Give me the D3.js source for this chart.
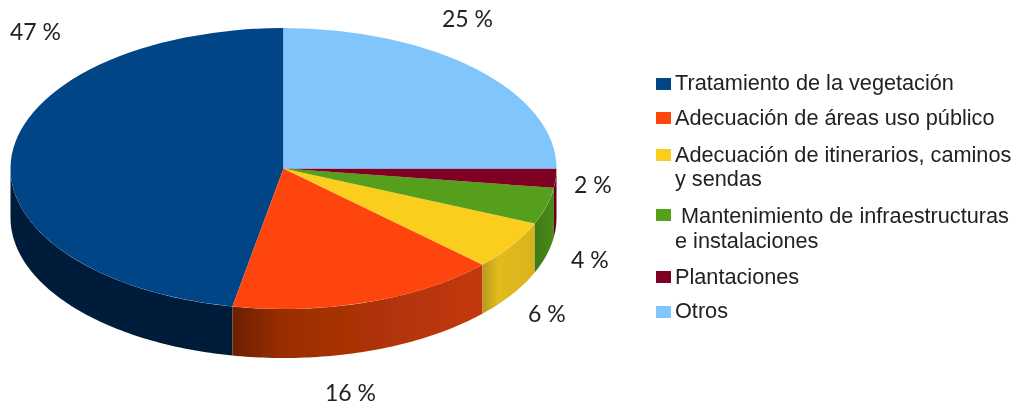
<!DOCTYPE html>
<html><head><meta charset="utf-8">
<script src="https://cdn.jsdelivr.net/npm/d3@7/dist/d3.min.js"></script>
<style>html,body{margin:0;padding:0;background:#fff}svg{display:block}</style>
</head><body><div id="c"></div>
<script>
const categories = ["Tratamiento de la vegetación","Adecuación de áreas uso público","Adecuación de itinerarios, caminos y sendas","Mantenimiento de infraestructuras e instalaciones","Plantaciones","Otros"];
const values = [47,16,5.6,4.2,2.2,25];
const valueLabels = ["47 %","16 %","6 %","4 %","2 %","25 %"];
const legendLines = [["Tratamiento de la vegetación"],["Adecuación de áreas uso público"],["Adecuación de itinerarios, caminos","y sendas"],["\u00A0Mantenimiento de infraestructuras","e instalaciones"],["Plantaciones"],["Otros"]];
const colors = ["#004586","#fd450d","#fbcd1e","#569f1a","#7e0021","#80c6fd"];

const W=1016,H=405,cx=283.5,cy=168.5,rx=273,ry=140.5,depth=49;
const labelPos=[[10,40],[325,401],[528,322],[571,268],[574,193],[442,27]];
const wallStops=[
 [["0","#001d3a"],["1","#001d3a"]],
 [["0","#6b2000"],["0.2","#9a2e04"],["1","#c5380a"]],
 [["0","#b89a1c"],["0.3","#e2bc20"],["1","#d8b21c"]],
 [["0","#3f7a12"],["1","#4a8a16"]],
 [["0","#5e0018"],["1","#6a001c"]],
 [["0","#6aa5d0"],["1","#6aa5d0"]]];
const legendBaselines=[[90],[125],[162,186],[223,248],[284],[318]];
const swatchY=[78,112,149,209,271,306];

const svg=d3.select("#c").append("svg").attr("width",W).attr("height",H).attr("viewBox",[0,0,W,H]);
const defs=svg.append("defs");
defs.append("filter").attr("id","soft").append("feGaussianBlur").attr("stdDeviation",0.6);

// Clockwise angle from 12 o'clock; first slice runs anticlockwise from the top
const pie=d3.pie().sort(null).startAngle(0).endAngle(-2*Math.PI);
const arcs=pie(values);
const px=a=>cx+rx*Math.sin(a), py=a=>cy-ry*Math.cos(a);
const ringLine=d3.line();

const chart=svg.append("g").attr("filter","url(#soft)");
const walls=chart.append("g");
arcs.forEach((d,i)=>{
  let a0=d.endAngle+2*Math.PI, a1=d.startAngle+2*Math.PI;
  if(a0>=2*Math.PI){a0-=2*Math.PI;a1-=2*Math.PI;}
  const lo=Math.max(a0,Math.PI/2), hi=Math.min(a1,3*Math.PI/2);
  if(hi<=lo) return;
  const n=Math.ceil((hi-lo)*60);
  const t=d3.range(n+1).map(k=>lo+(hi-lo)*k/n);
  const top=t.map(a=>[px(a),py(a)]);
  const bot=t.slice().reverse().map(a=>[px(a),py(a)+depth]);
  const xs=top.map(p=>p[0]);
  const g=defs.append("linearGradient").attr("id","w"+i).attr("gradientUnits","userSpaceOnUse")
    .attr("x1",d3.min(xs)).attr("x2",d3.max(xs)).attr("y1",0).attr("y2",0);
  wallStops[i].forEach(s=>g.append("stop").attr("offset",s[0]).attr("stop-color",s[1]));
  walls.append("path").attr("d",ringLine(top.concat(bot))+"Z").attr("fill",`url(#w${i})`);
});

const arc=d3.arc().innerRadius(0).outerRadius(rx);
chart.append("g").attr("transform",`translate(${cx},${cy}) scale(1,${ry/rx})`)
  .selectAll("path").data(arcs).join("path")
  .attr("d",arc).attr("fill",(d,i)=>colors[i]);

const txt=svg.append("g").attr("filter","url(#soft)");
txt.selectAll("text.v").data(valueLabels).join("text").attr("class","v")
  .attr("x",(d,i)=>labelPos[i][0]).attr("y",(d,i)=>labelPos[i][1])
  .attr("font-family","Lato, sans-serif").attr("font-size",23).attr("fill","#222").text(d=>d);

const lg=txt.selectAll("g.l").data(categories).join("g").attr("class","l");
lg.append("rect").attr("x",656).attr("y",(d,i)=>swatchY[i]).attr("width",15).attr("height",12)
  .attr("fill",(d,i)=>colors[i]);
lg.each(function(d,i){
  d3.select(this).selectAll("text").data(legendLines[i]).join("text")
    .attr("x",675).attr("y",(t,j)=>legendBaselines[i][j])
    .attr("font-family","'Liberation Sans', Arial, sans-serif").attr("font-size",21.7)
    .attr("fill","#222").text(t=>t);
});
</script></body></html>
